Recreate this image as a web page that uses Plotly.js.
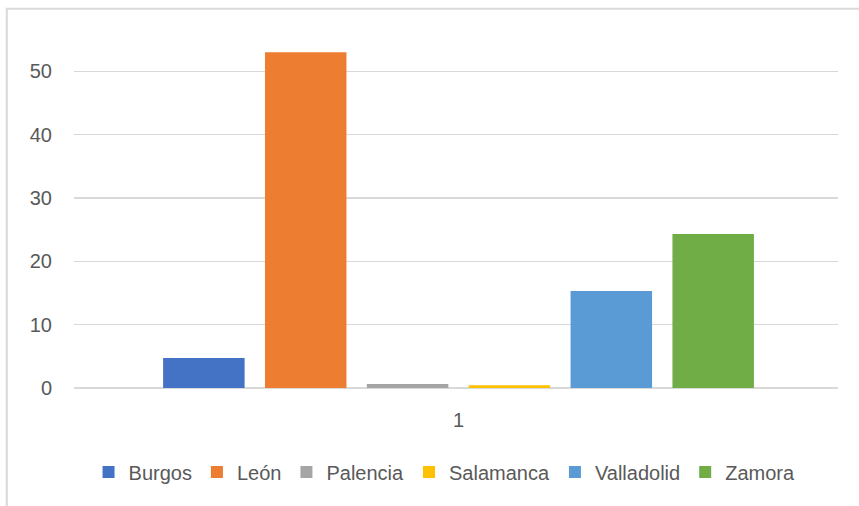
<!DOCTYPE html>
<html>
<head>
<meta charset="utf-8">
<script src="https://cdn.plot.ly/plotly-3.0.1.min.js"></script>
<style>
  html, body { margin: 0; padding: 0; background: #ffffff; }
  #chart { width: 859px; height: 506px; }
</style>
</head>
<body>
<div id="chart"></div>
<script>
// Data
const categories = ['1'];
const seriesNames = ['Burgos', 'León', 'Palencia', 'Salamanca', 'Valladolid', 'Zamora'];
const burgos = [4.75];
const leon = [53.0];
const palencia = [0.65];
const salamanca = [0.45];
const valladolid = [15.3];
const zamora = [24.3];
const seriesValues = [burgos, leon, palencia, salamanca, valladolid, zamora];
const yTicks = [0, 10, 20, 30, 40, 50];

const seriesColors = ['#4472C4', '#ED7D31', '#A5A5A5', '#FFC000', '#5B9BD5', '#70AD47'];

const traces = seriesNames.map((name, i) => ({
  type: 'bar',
  name: name,
  x: categories,
  y: seriesValues[i],
  marker: { color: seriesColors[i], line: { width: 0 } },
  hoverinfo: 'skip'
}));

const font = { family: 'Liberation Sans, Arial, sans-serif', size: 20, color: '#595959' };

const layout = {
  width: 859,
  height: 506,
  margin: { l: 74, r: 21, t: 8, b: 118 },
  paper_bgcolor: '#ffffff',
  plot_bgcolor: '#ffffff',
  font: font,
  barmode: 'group',
  bargap: 0.2,
  bargroupgap: 0.2,
  showlegend: true,
  legend: {
    orientation: 'h',
    x: 0.485,
    xanchor: 'center',
    y: -0.221,
    yanchor: 'middle',
    font: font,
    bgcolor: 'rgba(0,0,0,0)',
    traceorder: 'normal'
  },
  xaxis: {
    type: 'category',
    range: [-0.5033, 0.4967],
    showgrid: false,
    showline: false,
    zeroline: false,
    ticks: '',
    ticklabelstandoff: 18,
    tickfont: font,
    fixedrange: true
  },
  yaxis: {
    range: [0, 60],
    tickvals: yTicks,
    ticktext: yTicks.map(String),
    showgrid: true,
    gridcolor: '#d9d9d9',
    gridwidth: 1.5,
    zeroline: true,
    zerolinecolor: '#d9d9d9',
    zerolinewidth: 2,
    showline: false,
    ticks: '',
    ticklabelstandoff: 21,
    tickfont: font,
    fixedrange: true
  },
  shapes: [
    {
      type: 'rect',
      xref: 'paper', yref: 'paper',
      x0: -0.088, x1: 1.06,
      y0: -0.4, y1: 0.998,
      line: { color: '#d9d9d9', width: 2 },
      fillcolor: 'rgba(0,0,0,0)',
      layer: 'below'
    }
  ]
};

Plotly.newPlot('chart', traces, layout, { displayModeBar: false, staticPlot: true });
</script>
</body>
</html>
